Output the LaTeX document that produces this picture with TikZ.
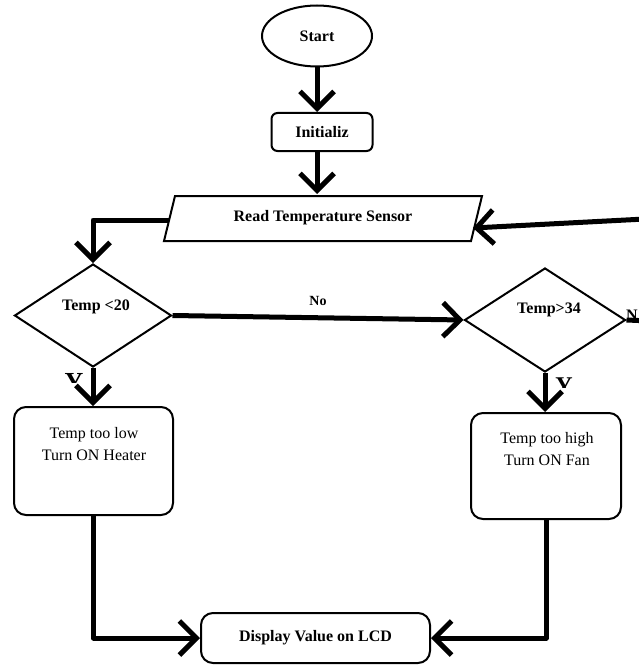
\documentclass[tikz,border=0pt]{standalone}
\usepackage{fontspec}
\setmainfont{Liberation Serif}
\usetikzlibrary{arrows.meta,shapes.geometric}
\begin{document}
\begin{tikzpicture}[x=1pt,y=-1pt,
  shapeline/.style={draw=black,line width=2pt},
  bigtxt/.style={font=\bfseries\fontsize{16}{19}\selectfont},
  plaintxt/.style={font=\fontsize{16}{22}\selectfont, align=center},
  flow/.style={line width=5pt, line join=round, -{Straight Barb[length=17pt,width=34pt]}},
  rbox/.style={shapeline, rounded corners=12pt, inner sep=0pt}
]
\useasboundingbox (0,0) rectangle (638,666);

% Start and Initialize
\node[ellipse, shapeline, minimum width=110, minimum height=61, inner sep=0pt, bigtxt] (start) at (317,36) {Start};
\node[shapeline, rounded corners=6pt, minimum width=101, minimum height=38, inner sep=0pt, bigtxt] (init) at (322,132) {Initializ};

% Read Temperature Sensor (parallelogram)
\draw[shapeline] (175,196) -- (482,196) -- (471,241) -- (164,241) -- cycle;
\node[bigtxt] (read) at (323,218) {Read Temperature Sensor};
\coordinate (readT) at (317,194);
\coordinate (readL) at (169,220);
\coordinate (readR) at (473,228);
\coordinate (loopin) at (645,219);

% Decisions
\node[diamond, shapeline, minimum width=157, minimum height=103, inner sep=0pt] (d1) at (93,315.5) {};
\node[bigtxt] (d1t) at (96,307) {Temp <20};
\node[diamond, shapeline, minimum width=161, minimum height=104, inner sep=0pt] (d2) at (545,320) {};
\node[bigtxt] (d2t) at (549,310) {Temp>34};
\coordinate (nout) at (650,321);

% Action boxes
\node[rbox, minimum width=159, minimum height=108] (box1) at (93.5,461) {};
\node[plaintxt] (box1t) at (94,444) {Temp too low\\Turn ON Heater};
\node[rbox, minimum width=150, minimum height=106] (box2) at (546,466) {};
\node[plaintxt] (box2t) at (547,449) {Temp too high\\Turn ON Fan};
\node[rbox, minimum width=229, minimum height=50, bigtxt] (disp) at (315.5,638) {Display Value on LCD};

% partially visible labels
\begin{scope}
  \clip (55,370) rectangle (115,382);
  \node[font=\bfseries\fontsize{26}{26}\selectfont, anchor=north, inner sep=0pt] (ylow) at (74,373) {Y};
\end{scope}
\begin{scope}
  \clip (545,375) rectangle (590,387);
  \node[font=\bfseries\fontsize{24}{24}\selectfont, anchor=north, inner sep=0pt] (yhigh) at (564,378) {Y};
\end{scope}
\node[bigtxt, anchor=north west, inner sep=0pt] (nlab) at (626,310) {N};

% Connectors
\draw[flow] (start.south) -- (start.south |- init.north);
\draw[flow] (start.south |- init.south) -- (readT);
\draw[flow] (readL) -| (d1.north);
\draw[flow] (loopin) -- (readR);
\draw[flow] (d1.east) -- (d2.west) node[midway, above=6pt, font=\bfseries\fontsize{14}{16}\selectfont] (nolab) {No};
\draw[line width=5pt] (d2.east) -- (nout);
\draw[flow] (d1.south) -- (d1.south |- box1.north);
\draw[flow] (d2.south) -- (d2.south |- box2.north);
\draw[flow] (box1.south) |- (disp.west);
\draw[flow] (box2.south) |- (disp.east);
\end{tikzpicture}
\end{document}
